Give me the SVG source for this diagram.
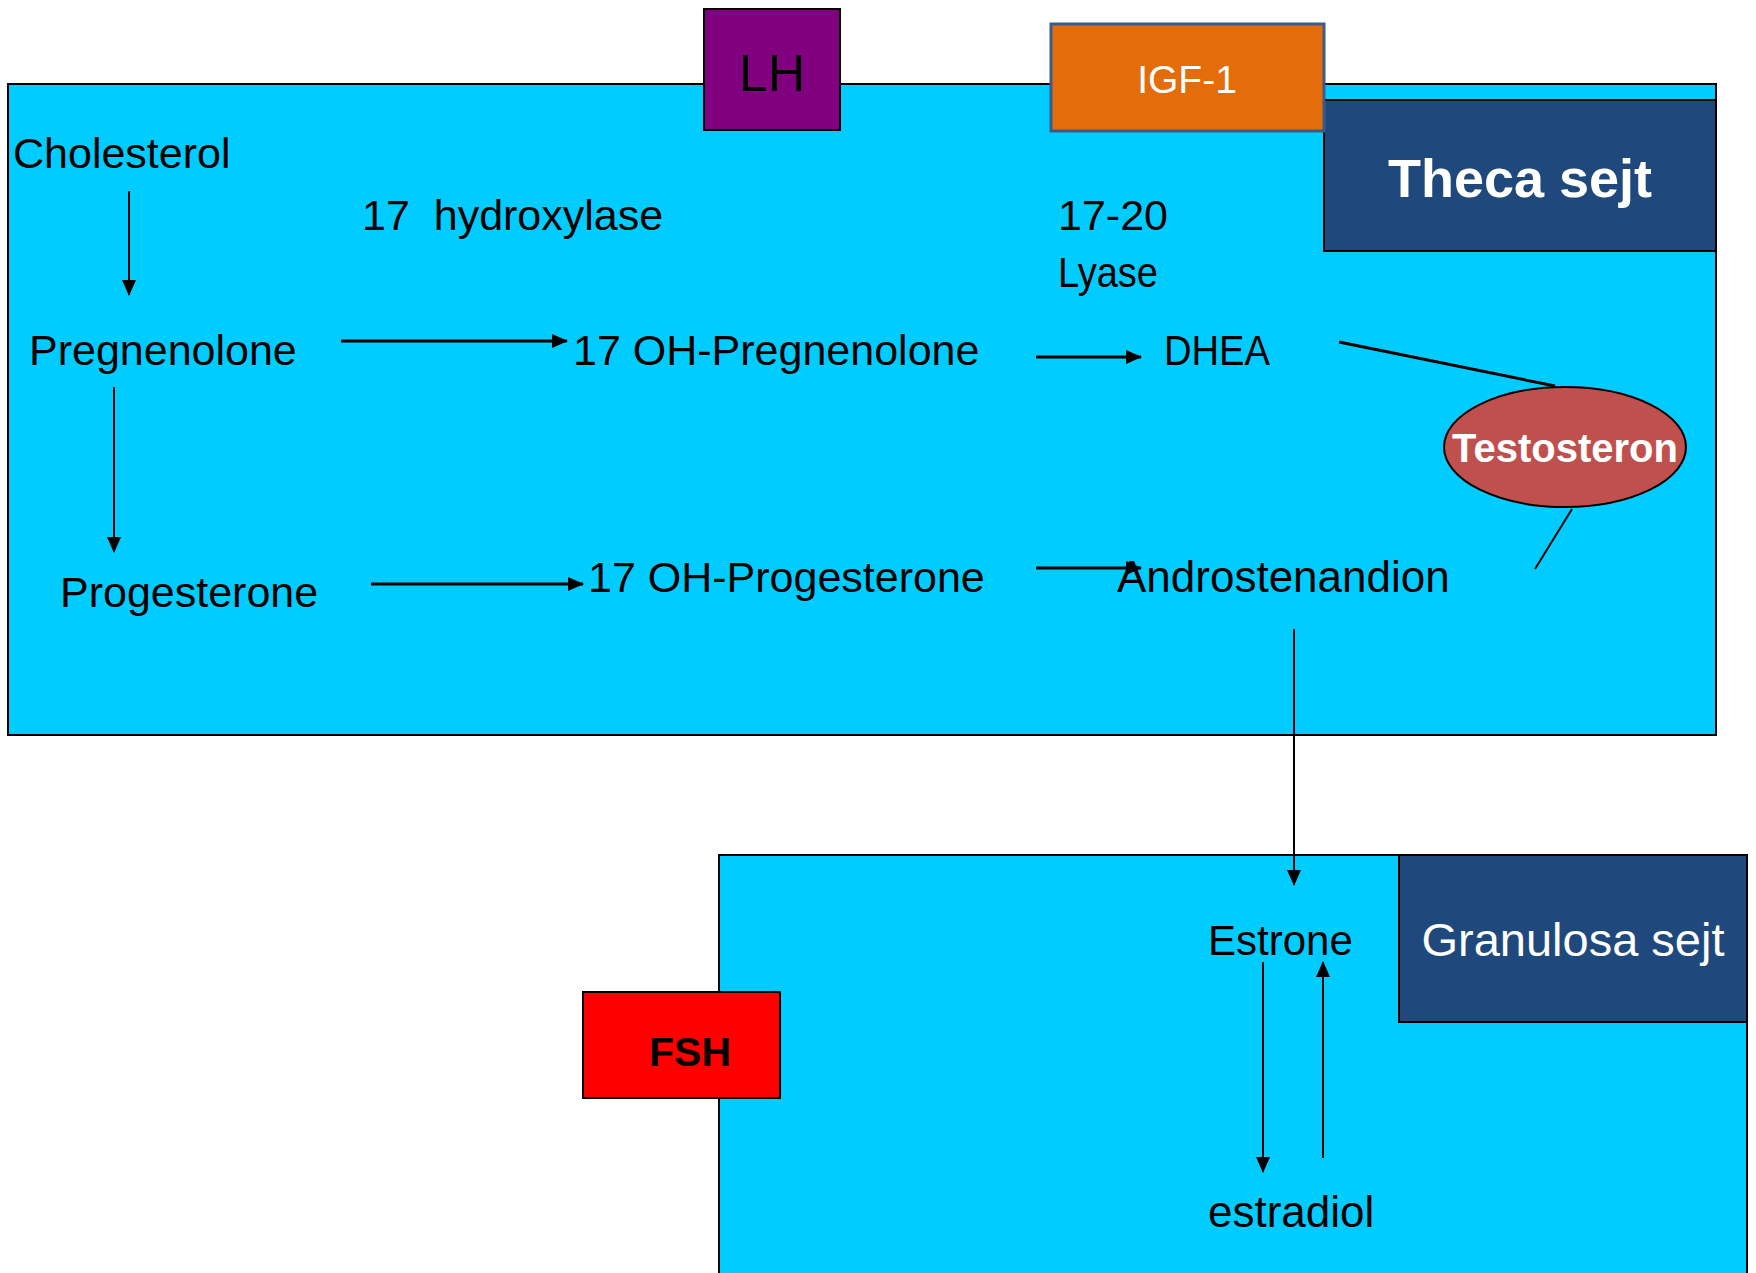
<svg xmlns="http://www.w3.org/2000/svg" width="1756" height="1273" viewBox="0 0 1756 1273">
<style>
.t{font-family:"Liberation Sans",Arial,sans-serif;font-size:43px;fill:#000}
.w{fill:#fff}
.b{font-weight:bold}
.box{stroke:#000;stroke-width:2}
.c{stroke:#000;stroke-width:2;fill:none}
.c3{stroke:#000;stroke-width:3;fill:none}
</style>
<defs>
<marker id="ah" viewBox="0 0 16 14" refX="15" refY="7" markerWidth="16" markerHeight="14" markerUnits="userSpaceOnUse" orient="auto">
<path d="M0,0 L16,7 L0,14 z" fill="#000"/>
</marker>
</defs>
<g id="theca-cell">
<rect x="8" y="84" width="1708" height="651" fill="#00ccff" class="box"/>
</g>
<g id="theca-label">
<rect x="1324" y="100" width="392" height="151" fill="#1f497d" class="box"/>
<text x="1520" y="197" class="t w b" style="font-size:54px" text-anchor="middle">Theca sejt</text>
</g>
<g id="lh">
<rect x="704" y="9" width="136" height="121" fill="#800080" class="box"/>
<text x="772" y="91" class="t" style="font-size:52px" text-anchor="middle">LH</text>
</g>
<g id="igf1">
<rect x="1051" y="24" width="273" height="107" fill="#e46c0a" stroke="#385d8a" stroke-width="3"/>
<text x="1187" y="93" class="t w" style="font-size:39px" text-anchor="middle">IGF-1</text>
</g>
<g id="granulosa-cell">
<rect x="719" y="855" width="1028" height="430" fill="#00ccff" class="box"/>
</g>
<g id="granulosa-label">
<rect x="1399" y="855" width="348" height="167" fill="#1f497d" class="box"/>
<text x="1573" y="956" class="t w" style="font-size:47px" text-anchor="middle">Granulosa sejt</text>
</g>
<g id="fsh">
<rect x="583" y="992" width="197" height="106" fill="#ff0000" class="box"/>
<text x="690" y="1066" class="t b" style="font-size:41px" text-anchor="middle">FSH</text>
</g>
<g id="cholesterol"><text x="13" y="168" class="t">Cholesterol</text></g>
<g id="hydroxylase"><text x="362" y="230" class="t" xml:space="preserve">17  hydroxylase</text></g>
<g id="lyase"><text x="1058" y="230" class="t">17-20</text><text x="1058" y="287" class="t" textLength="100" lengthAdjust="spacingAndGlyphs">Lyase</text></g>
<g id="pregnenolone"><text x="29" y="365" class="t">Pregnenolone</text></g>
<g id="oh-pregnenolone"><text x="573" y="365" class="t">17 OH-Pregnenolone</text></g>
<g id="dhea"><text x="1164" y="365" class="t" textLength="106" lengthAdjust="spacingAndGlyphs">DHEA</text></g>
<g id="progesterone"><text x="60" y="607" class="t">Progesterone</text></g>
<g id="oh-progesterone"><text x="588" y="592" class="t">17 OH-Progesterone</text></g>
<g id="androstenandion"><text x="1117" y="592" class="t" style="font-size:44px">Androstenandion</text></g>
<g id="testosteron">
<ellipse cx="1565" cy="447" rx="121" ry="60" fill="#c0504d" class="box"/>
<text x="1565" y="462" class="t w b" style="font-size:40px" text-anchor="middle">Testosteron</text>
</g>
<g id="estrone"><text x="1208" y="955" class="t" style="font-size:42px">Estrone</text></g>
<g id="estradiol"><text x="1208" y="1227" class="t" style="font-size:44px">estradiol</text></g>
<g id="connectors">
<line x1="129" y1="191" x2="129" y2="295" class="c" marker-end="url(#ah)"/>
<line x1="341" y1="341" x2="567" y2="341" class="c3" marker-end="url(#ah)"/>
<line x1="114" y1="387" x2="114" y2="552" class="c" marker-end="url(#ah)"/>
<line x1="371" y1="584" x2="583" y2="584" class="c3" marker-end="url(#ah)"/>
<line x1="1036" y1="357" x2="1141" y2="357" class="c3" marker-end="url(#ah)"/>
<line x1="1036" y1="568" x2="1141" y2="568" class="c3" marker-end="url(#ah)"/>
<line x1="1339" y1="342" x2="1555" y2="386" class="c3"/>
<line x1="1572" y1="509" x2="1535" y2="569" class="c"/>
<line x1="1294" y1="629" x2="1294" y2="885" class="c" marker-end="url(#ah)"/>
<line x1="1263" y1="962" x2="1263" y2="1172" class="c" marker-end="url(#ah)"/>
<line x1="1323" y1="1158" x2="1323" y2="962" class="c" marker-end="url(#ah)"/>
</g>
</svg>
